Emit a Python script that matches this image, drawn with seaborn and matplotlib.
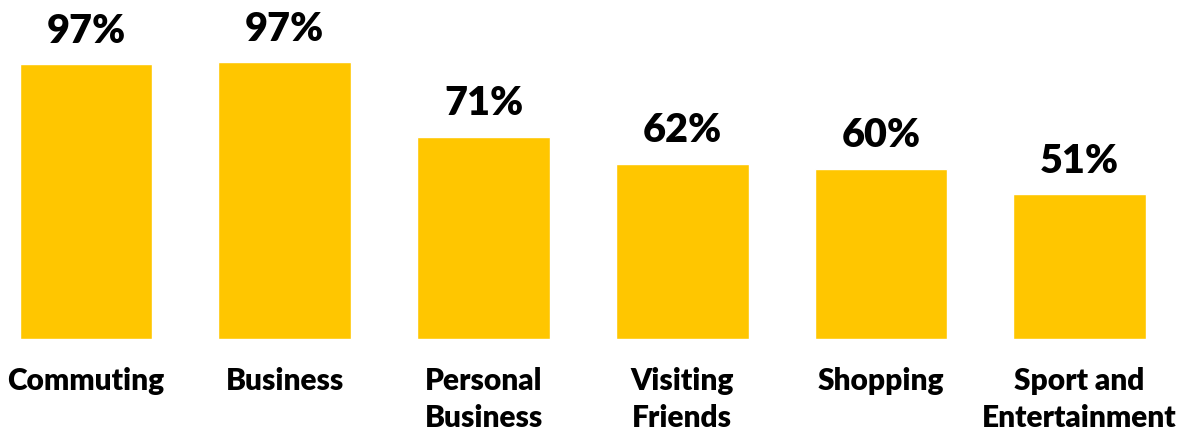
import matplotlib
matplotlib.use("Agg")
import matplotlib.pyplot as plt
import seaborn as sns
import pandas as pd

categories = ["Commuting", "Business", "Personal\nBusiness", "Visiting\nFriends",
              "Shopping", "Sport and\nEntertainment"]
shares = [96.6, 97.2, 71.0, 61.6, 59.8, 50.9]

sns.set_theme(style="white")
plt.rcParams["font.family"] = ["Lato", "DejaVu Sans"]

bar_color = "#FFC600"

df = pd.DataFrame({"purpose": categories, "share": shares})

fig = plt.figure(figsize=(11.86, 4.30), dpi=100)
ax = fig.add_axes([0.0, 0.2116, 1.0, 0.6616])

sns.barplot(data=df, x="purpose", y="share", color=bar_color, saturation=1,
            width=0.667, ax=ax)

ax.set_xlim(-0.433, 5.535)
ax.set_ylim(0, 100)

for i, v in enumerate(shares):
    ax.annotate(f"{v:.0f}%", xy=(i, v), xytext=(0, 15.5), textcoords="offset points",
                ha="center", va="baseline", fontsize=28.5, fontweight="heavy",
                color="black", annotation_clip=False)

ax.set_xlabel("")
ax.set_ylabel("")
ax.set_yticks([])
ax.tick_params(axis="x", length=0, pad=20)
for lbl in ax.get_xticklabels():
    lbl.set_fontsize(21.5)
    lbl.set_fontweight("heavy")
    lbl.set_color("black")
    lbl.set_linespacing(1.4)
sns.despine(ax=ax, left=True, bottom=True)

fig.savefig("out.png", dpi=100, facecolor="white")
